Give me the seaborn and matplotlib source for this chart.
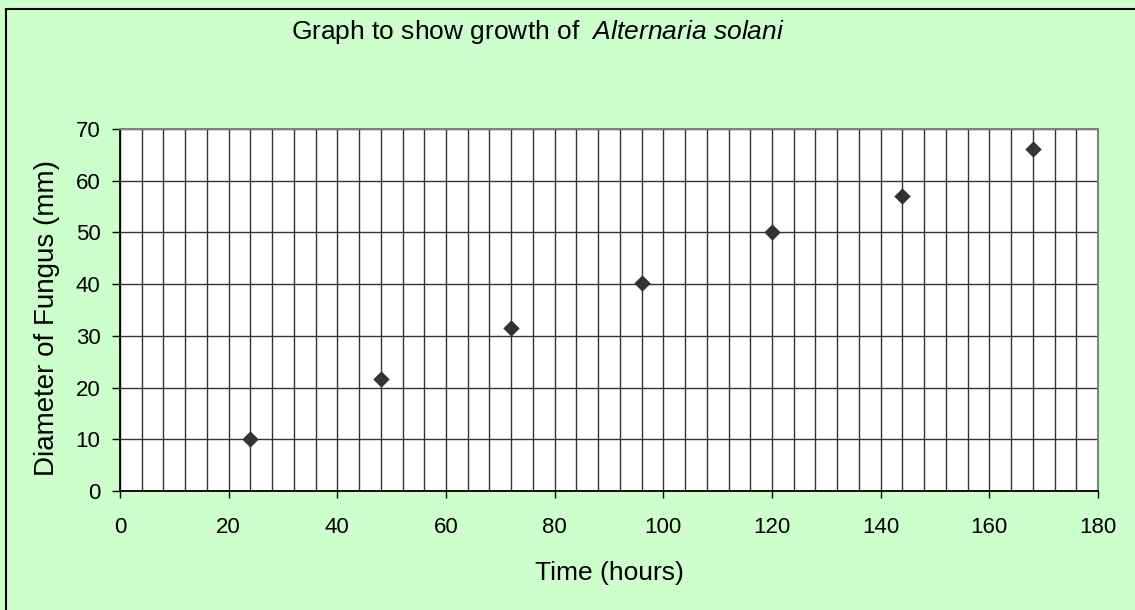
import matplotlib
matplotlib.use("Agg")
import matplotlib.pyplot as plt
from matplotlib.ticker import MultipleLocator
from matplotlib.patches import Rectangle
import pandas as pd
import seaborn as sns

# data
time_hours = [24, 48, 72, 96, 120, 144, 168]
diameter_mm = [10.0, 21.7, 31.5, 40.3, 50.0, 57.0, 66.1]

df = pd.DataFrame({"time": time_hours, "diameter": diameter_mm})

sns.set_style("white")
plt.rcParams["font.family"] = ["Liberation Sans", "DejaVu Sans"]
plt.rcParams["mathtext.fontset"] = "custom"
plt.rcParams["mathtext.rm"] = "Liberation Sans"
plt.rcParams["mathtext.it"] = "Liberation Sans:italic"
plt.rcParams["text.color"] = "black"
plt.rcParams["axes.labelcolor"] = "black"
plt.rcParams["xtick.color"] = "black"
plt.rcParams["ytick.color"] = "black"

bg = "#CCFFCC"
fig = plt.figure(figsize=(11.35, 6.10), dpi=100, facecolor=bg)
ax = fig.add_axes([120 / 1135, 1 - 491 / 610, 978 / 1135, 362 / 610])
ax.set_facecolor("white")

sns.scatterplot(data=df, x="time", y="diameter", marker="D", s=70,
                color="#333333", edgecolor="#333333", linewidth=0, ax=ax, zorder=5)

ax.set_xlim(0, 180)
ax.set_ylim(0, 70)
ax.xaxis.set_major_locator(MultipleLocator(20))
ax.xaxis.set_minor_locator(MultipleLocator(4))
ax.yaxis.set_major_locator(MultipleLocator(10))

ax.grid(True, which="major", axis="both", color="#333333", lw=1.0)
ax.grid(True, which="minor", axis="x", color="#333333", lw=1.0)
ax.set_axisbelow(True)

ax.tick_params(axis="x", which="major", direction="out", length=5, width=1,
               color="black", labelcolor="black", labelsize=16, pad=14, bottom=True)
ax.tick_params(axis="y", which="major", direction="out", length=6, width=1,
               color="black", labelcolor="black", labelsize=16, pad=8, left=True)
ax.tick_params(which="minor", length=0)

for side in ["left", "bottom"]:
    ax.spines[side].set_color("black")
    ax.spines[side].set_linewidth(1.3)
for side in ["top", "right"]:
    ax.spines[side].set_color("#808080")
    ax.spines[side].set_linewidth(1.5)
    ax.spines[side].set_visible(True)

ax.set_xlabel("Time (hours)", fontsize=19, va="center", color="black")
ax.set_ylabel("Diameter of Fungus (mm)", fontsize=20, va="center", color="black")
ax.xaxis.set_label_coords(0.5, (491 - 573) / 362)
ax.yaxis.set_label_coords((47 - 120) / 978, (491 - 318) / 362)

fig.text(538 / 1135, 1 - 32 / 610,
         r"Graph to show growth of  $\mathit{Alternaria\ solani}$",
         ha="center", va="center", fontsize=19, color="black")

# chart area border
fig.patches.append(Rectangle((6 / 1135, -0.2), 1.2, 1.2 - 9 / 610,
                             transform=fig.transFigure, fill=False,
                             edgecolor="black", lw=1.5))

fig.savefig("out.png", dpi=100, facecolor=bg)
